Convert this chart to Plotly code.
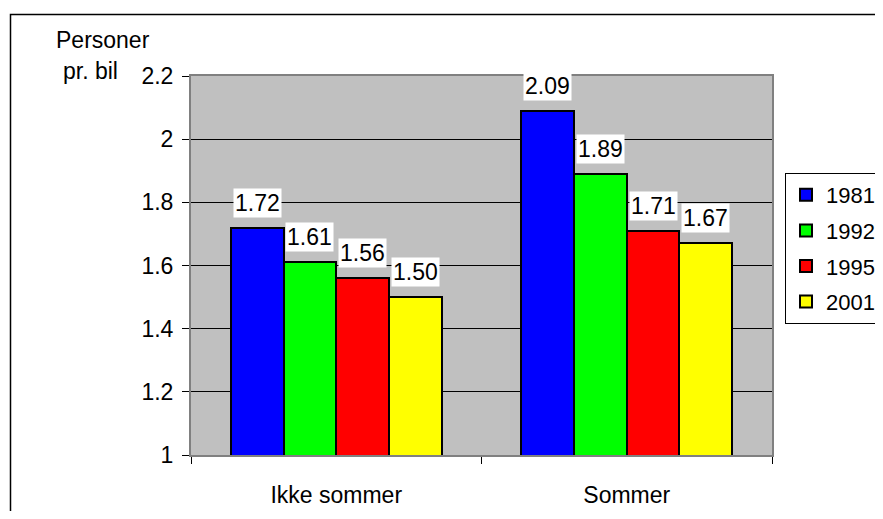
import plotly.graph_objects as go

categories = ["Ikke sommer", "Sommer"]
years = ["1981", "1992", "1995", "2001"]
values_1981 = [1.72, 2.09]
values_1992 = [1.61, 1.89]
values_1995 = [1.56, 1.71]
values_2001 = [1.50, 1.67]
series_values = [values_1981, values_1992, values_1995, values_2001]
colors = ["#0000FF", "#00FF00", "#FF0000", "#FFFF00"]
y_ticks = [1, 1.2, 1.4, 1.6, 1.8, 2, 2.2]

# page has an 8px body margin on every side; size the figure so the page does not overflow
PAD = 8
W, H = 883 - 2 * PAD, 519 - 2 * PAD
L, T = 191 - PAD, 76 - PAD
R = (883 - PAD) - 772 - 0 - (0)  # distance from plot right (772) to figure right edge (875)
R = (PAD + W) - 772
B = (PAD + H) - 455
pw, ph = W - L - R, H - T - B

def px_x(p):
    return (p - PAD - L) / pw

def px_y(p):
    return (H - B - (p - PAD)) / ph

FONT = "Liberation Sans, Arial, sans-serif"
FS = 23

group_frac = 0.726
bw = group_frac / len(years)
xs = list(range(len(categories)))

fig = go.Figure()
annotations = []
for k, (yr, vals, col) in enumerate(zip(years, series_values, colors)):
    off = -group_frac / 2 + k * bw
    fig.add_trace(go.Bar(
        x=xs, y=vals, name=yr, width=bw, offset=off,
        marker=dict(color=col, line=dict(color="black", width=2)),
        legendgroup=yr,
    ))
    for xi, v in zip(xs, vals):
        annotations.append(dict(
            x=xi + off + bw / 2, y=v, xref="x", yref="y",
            text=f"{v:.2f}", showarrow=False, yanchor="bottom", xanchor="center",
            yshift=10, bgcolor="white", borderpad=1,
            font=dict(family=FONT, size=FS, color="black"),
        ))

annotations.append(dict(x=px_x(54), y=px_y(40), xref="paper", yref="paper", text="Personer",
                        showarrow=False, xanchor="left", yanchor="middle",
                        font=dict(family=FONT, size=FS, color="black")))
annotations.append(dict(x=px_x(61), y=px_y(71), xref="paper", yref="paper", text="pr. bil",
                        showarrow=False, xanchor="left", yanchor="middle",
                        font=dict(family=FONT, size=FS, color="black")))

fig.update_layout(
    width=W, height=H,
    margin=dict(l=L, r=R, t=T, b=B, autoexpand=False),
    paper_bgcolor="white", plot_bgcolor="#C0C0C0",
    font=dict(family=FONT, size=FS, color="black"),
    bargap=0, barmode="group",
    showlegend=True,
    legend=dict(x=px_x(785), y=px_y(173), xanchor="left", yanchor="top",
                bordercolor="black", borderwidth=1, bgcolor="white",
                traceorder="grouped", tracegroupgap=4,
                font=dict(family=FONT, size=22, color="black"),
                itemwidth=30),
    annotations=annotations,
    shapes=[dict(type="rect", xref="paper", yref="paper",
                 x0=px_x(10.5), x1=px_x(900), y0=px_y(540), y1=px_y(14.5),
                 line=dict(color="black", width=1.5), fillcolor="rgba(0,0,0,0)", layer="below")],
)
fig.update_xaxes(
    range=[-0.5, len(categories) - 0.5], tickvals=xs, ticktext=categories,
    ticks="", showgrid=False, zeroline=False,
    showline=True, linecolor="#808080", linewidth=2, mirror=True,
    ticklabelstandoff=18,
    minor=dict(tickvals=[-0.5, 0.5, 1.5], ticks="outside", ticklen=7, tickcolor="black", tickwidth=1, showgrid=False),
    tickfont=dict(family=FONT, size=FS, color="black"),
)
fig.update_yaxes(
    range=[1, 2.2], tickvals=y_ticks, ticks="outside", ticklen=7, tickcolor="black",
    showgrid=True, gridcolor="black", gridwidth=1, zeroline=False,
    showline=True, linecolor="#808080", linewidth=2, mirror=True,
    ticklabelstandoff=4,
    tickfont=dict(family=FONT, size=FS, color="black"),
)

fig.write_html("out.html")
